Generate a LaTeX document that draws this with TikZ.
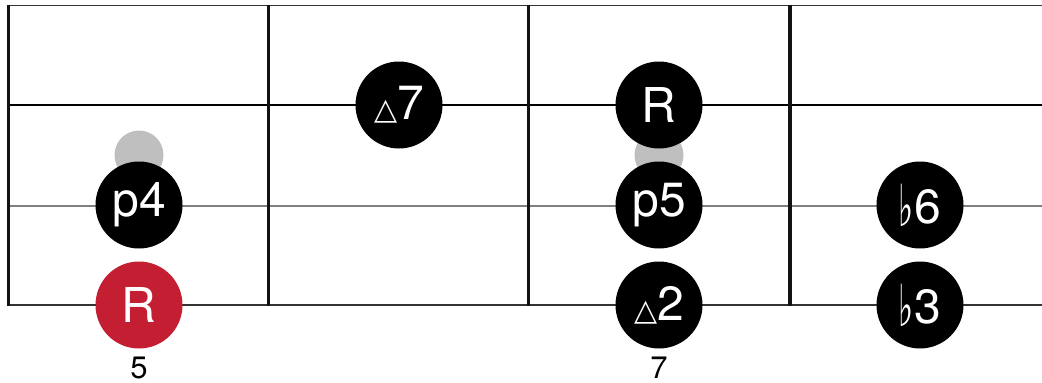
\documentclass[tikz,border=0pt]{standalone}
\usepackage{fontspec}
\setmainfont{TeX Gyre Heros}
\newfontfamily\symfont{DejaVu Sans}
\usetikzlibrary{positioning}

\definecolor{rootred}{RGB}{196,30,50}
\definecolor{ghostgray}{RGB}{191,191,191}
\definecolor{stringgray}{RGB}{128,128,128}
\definecolor{edgegray}{RGB}{51,51,51}

\newcommand{\fl}{{\symfont\fontsize{58}{58}\selectfont\raisebox{-3pt}{\scalebox{0.55}[1]{♭}}\kern1pt}}
\newcommand{\tri}{{\symfont\fontsize{30}{30}\selectfont △}}

\begin{document}
\begin{tikzpicture}[x=1pt, y=-1pt,
        note/.style = {circle, fill=black, text=white, minimum size=87pt, inner sep=0pt, font=\fontsize{48}{48}\selectfont},
        root/.style = {note, fill=rootred},
        ghost/.style = {circle, fill=ghostgray, minimum size=49pt, inner sep=0pt},
        fret/.style = {line width=3.5pt, black!93},
        fretnum/.style = {inner sep=0pt, font=\fontsize{31}{31}\selectfont}]
    \useasboundingbox (0,0) rectangle (1042,383);

    % strings
    \draw[edgegray, line width=1.2pt] (8,5.5) -- (1042,5.5);
    \draw[black, line width=1.4pt] (8,105) -- (1042,105);
    \draw[stringgray, line width=2pt] (8,205.5) -- (1042,205.5);
    \draw[edgegray, line width=2.2pt] (8,305) -- (1042,305);

    % frets
    \foreach \x in {8.5,268.5,528.5,790}
        \draw[fret] (\x,4.5) -- (\x,306);

    % ghost notes
    \node[ghost] (g1) at (139,155) {};
    \node[ghost] (g2) at (659,155) {};

    % notes
    \node[root] (r1) at (139,305) {R};
    \node[note] (p4) at (139,205) {p4};
    \node[note] (m7) at (399,105) {\tri7};
    \node[note] (r2) at (659,105) {R};
    \node[note] (p5) at (659,205) {p5};
    \node[note] (m2) at (659,305) {\tri2};
    \node[note] (b6) at (920,205) {\fl6};
    \node[note] (b3) at (920,305) {\fl3};

    % fret numbers
    \node[fretnum] (n5) at (139,368) {5};
    \node[fretnum] (n7) at (659,368) {7};
\end{tikzpicture}
\end{document}
